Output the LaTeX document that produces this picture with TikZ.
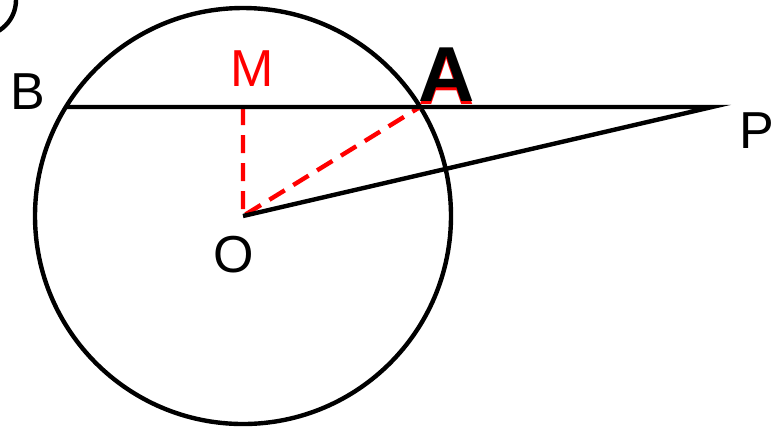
\documentclass[tikz,border=0pt]{standalone}
\usepackage{fontspec}
\setmainfont{Liberation Sans}
\usepackage{tikz}
\usepackage{xcolor}

\begin{document}
\begin{tikzpicture}[x=0.5pt, y=-0.5pt, line width=2.2pt,
  every node/.style={inner sep=1pt, font=\fontsize{26}{26}\selectfont},
  big/.style={font=\fontsize{39}{39}\selectfont\bfseries},
  aux/.style={red, dash pattern=on 9pt off 5pt}]
\useasboundingbox (0,0) rectangle (775,430);
\coordinate (O) at (243,216);
\coordinate (M) at (243,107);
\coordinate (A) at (420,107);
\coordinate (B) at (66,107);
\coordinate (P) at (712,107);
\begin{scope}
  \clip (0,0) rectangle (775,430);
  \draw (-20,0) circle [radius=18pt];
\end{scope}
\draw (O) circle [radius=104pt];
\draw[aux] (M) -- (O) -- (A);
\draw (B) -- (P) -- (O);
\node (lB) at (28,92) {B};
\node[red] (lM) at (252,69) {M};
\node[red, big] at (447,78) {A};
\node[big] (lA) at (447,75) {A};
\node (lP) at (757,131) {P};
\node (lO) at (234,255) {O};
\end{tikzpicture}
\end{document}
